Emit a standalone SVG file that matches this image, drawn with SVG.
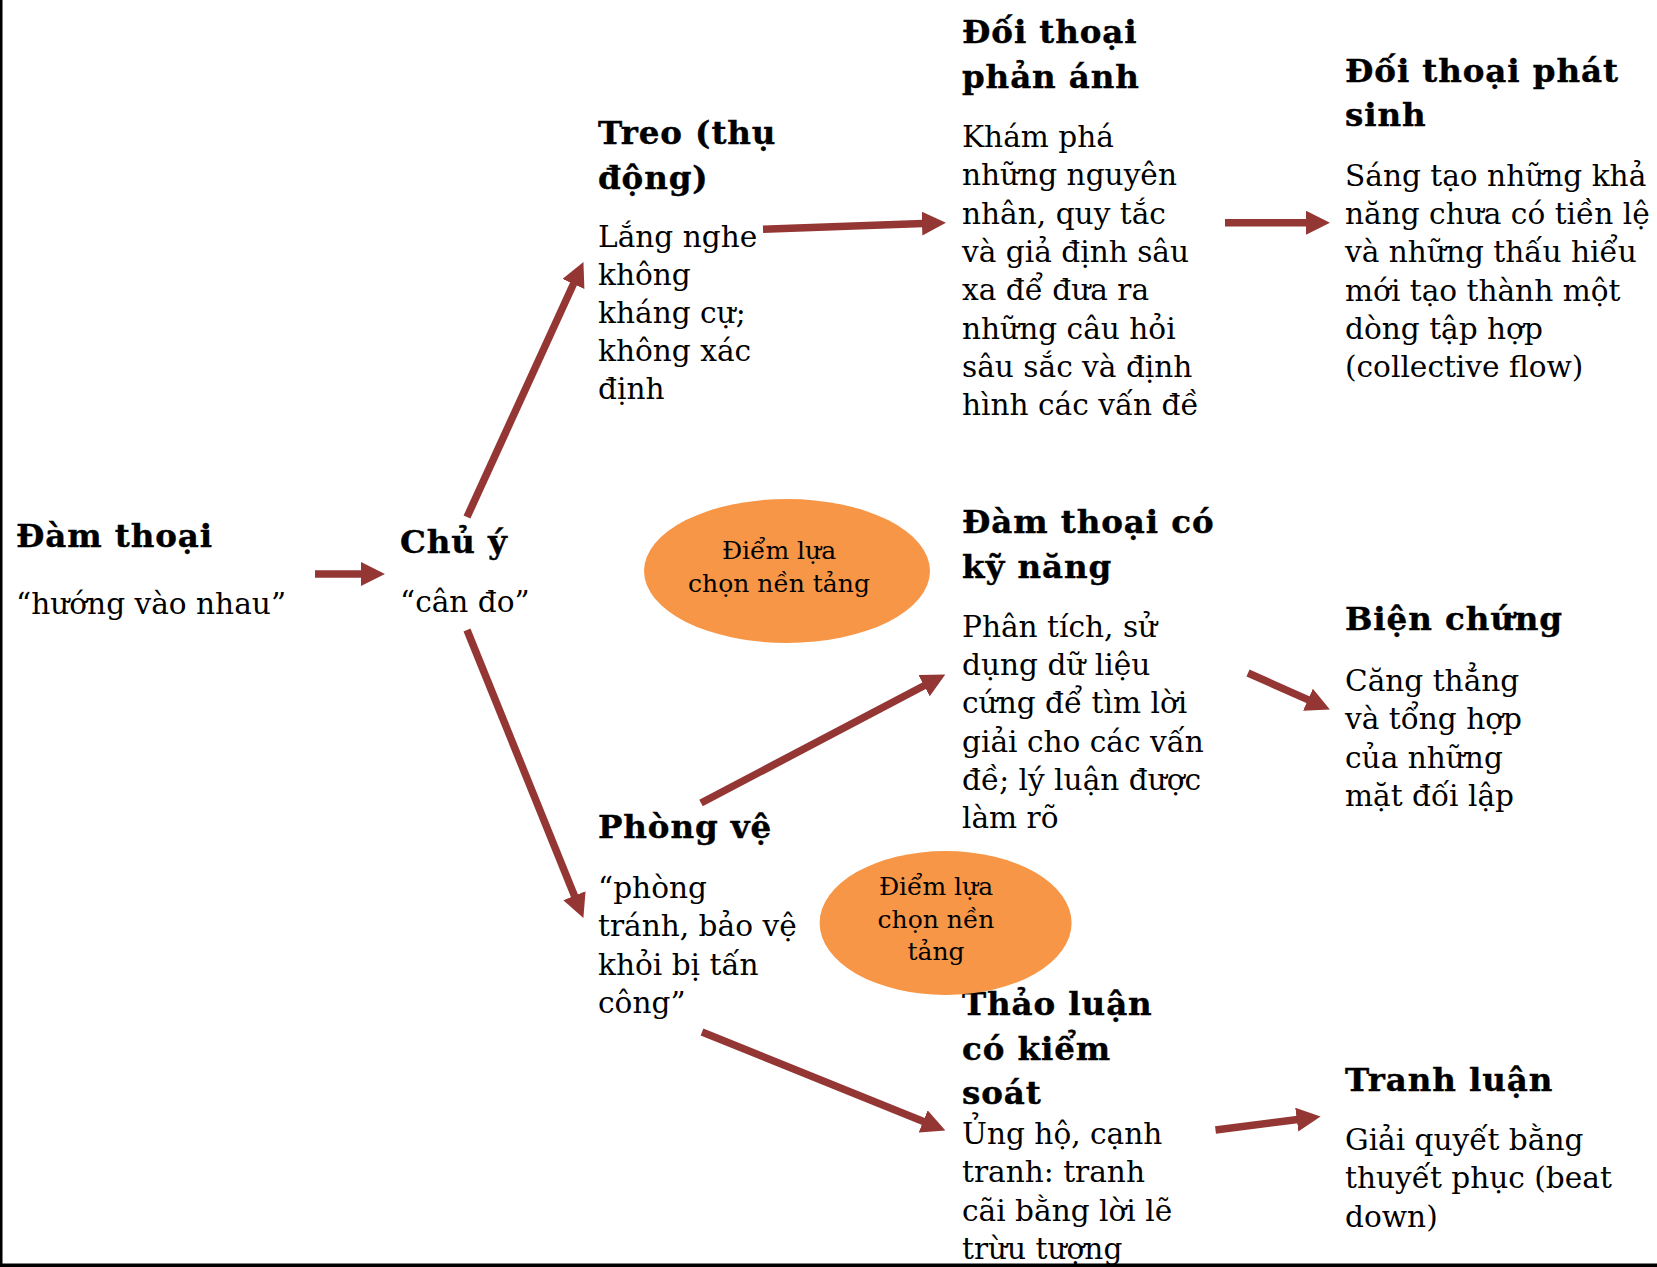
<svg xmlns="http://www.w3.org/2000/svg" width="1657" height="1267" viewBox="0 0 1657 1267">
<style>
.h{font-family:"DejaVu Serif","Liberation Serif",serif;font-weight:bold;font-size:32.5px;letter-spacing:0.9px;fill:#000;stroke:#000;stroke-width:0.4}
.b{font-family:"DejaVu Serif","Liberation Serif",serif;font-size:29.6px;fill:#000}
.e{font-family:"DejaVu Serif","Liberation Serif",serif;font-size:25px;fill:#000;text-anchor:middle}
.c{stroke:#943634;stroke-width:7.5;fill:none;marker-end:url(#ah)}
.ov{fill:#F79646}
</style>
<defs>
<marker id="ah" markerUnits="userSpaceOnUse" markerWidth="24" markerHeight="24" viewBox="0 0 23 23" refX="1" refY="11.5" orient="auto">
<path d="M0,0 L23,11.5 L0,23 z" fill="#943634"/>
</marker>
</defs>
<rect x="0" y="0" width="1657" height="1267" fill="#fff"/>

<g id="connectors">
<line class="c" x1="315" y1="574" x2="362" y2="574"/>
<line class="c" x1="467" y1="517" x2="573.9" y2="283"/>
<line class="c" x1="467" y1="630" x2="574.8" y2="896.6"/>
<line class="c" x1="701" y1="803" x2="925" y2="685.2"/>
<line class="c" x1="763" y1="229.3" x2="923" y2="223.5"/>
<line class="c" x1="1225" y1="222.7" x2="1307" y2="222.7"/>
<line class="c" x1="1248" y1="673" x2="1308.9" y2="700.1"/>
<line class="c" x1="702" y1="1032" x2="924.1" y2="1121.8"/>
<line class="c" x1="1215.5" y1="1130" x2="1297.8" y2="1119.5"/>
</g>

<g id="dam-thoai">
<text class="h" x="16" y="547">Đàm thoại</text>
<text class="b" x="16" y="614">“hướng vào nhau”</text>
</g>

<g id="chu-y">
<text class="h" x="400" y="553">Chủ ý</text>
<text class="b" x="400" y="612">“cân đo”</text>
</g>

<g id="treo">
<text class="h" x="598" y="143.5">Treo (thụ</text>
<text class="h" x="598" y="188.5">động)</text>
<text class="b" x="598" y="246.7">Lắng nghe</text>
<text class="b" x="598" y="285">không</text>
<text class="b" x="598" y="322.5">kháng cự;</text>
<text class="b" x="598" y="360.5">không xác</text>
<text class="b" x="598" y="398.5">định</text>
</g>

<g id="phong-ve">
<text class="h" x="598" y="838">Phòng vệ</text>
<text class="b" x="598" y="898">“phòng</text>
<text class="b" x="598" y="936.3">tránh, bảo vệ</text>
<text class="b" x="598" y="974.6">khỏi bị tấn</text>
<text class="b" x="598" y="1012.9">công”</text>
</g>

<g id="doi-thoai-phan-anh">
<text class="h" x="962" y="43">Đối thoại</text>
<text class="h" x="962" y="87.8">phản ánh</text>
<text class="b" x="962" y="147">Khám phá</text>
<text class="b" x="962" y="185.3">những nguyên</text>
<text class="b" x="962" y="223.6">nhân, quy tắc</text>
<text class="b" x="962" y="261.9">và giả định sâu</text>
<text class="b" x="962" y="300.2">xa để đưa ra</text>
<text class="b" x="962" y="338.5">những câu hỏi</text>
<text class="b" x="962" y="376.8">sâu sắc và định</text>
<text class="b" x="962" y="415.1">hình các vấn đề</text>
</g>

<g id="dam-thoai-ky-nang">
<text class="h" x="962" y="532.7">Đàm thoại có</text>
<text class="h" x="962" y="577.6">kỹ năng</text>
<text class="b" x="962" y="636.8">Phân tích, sử</text>
<text class="b" x="962" y="675.1">dụng dữ liệu</text>
<text class="b" x="962" y="713.4">cứng để tìm lời</text>
<text class="b" x="962" y="751.7">giải cho các vấn</text>
<text class="b" x="962" y="790">đề; lý luận được</text>
<text class="b" x="962" y="828.3">làm rõ</text>
</g>

<g id="thao-luan">
<text class="h" x="962" y="1015">Thảo luận</text>
<text class="h" x="962" y="1059.5">có kiểm</text>
<text class="h" x="962" y="1104">soát</text>
<text class="b" x="962" y="1144">Ủng hộ, cạnh</text>
<text class="b" x="962" y="1182.3">tranh: tranh</text>
<text class="b" x="962" y="1220.6">cãi bằng lời lẽ</text>
<text class="b" x="962" y="1258.9">trừu tượng</text>
</g>

<g id="doi-thoai-phat-sinh">
<text class="h" x="1345" y="81.5">Đối thoại phát</text>
<text class="h" x="1345" y="125.5">sinh</text>
<text class="b" x="1345" y="185.7">Sáng tạo những khả</text>
<text class="b" x="1345" y="224">năng chưa có tiền lệ</text>
<text class="b" x="1345" y="262.3">và những thấu hiểu</text>
<text class="b" x="1345" y="300.6">mới tạo thành một</text>
<text class="b" x="1345" y="338.9">dòng tập hợp</text>
<text class="b" x="1345" y="377.2">(collective flow)</text>
</g>

<g id="bien-chung">
<text class="h" x="1345" y="630">Biện chứng</text>
<text class="b" x="1345" y="691">Căng thẳng</text>
<text class="b" x="1345" y="729.3">và tổng hợp</text>
<text class="b" x="1345" y="767.6">của những</text>
<text class="b" x="1345" y="805.9">mặt đối lập</text>
</g>

<g id="tranh-luan">
<text class="h" x="1345" y="1091">Tranh luận</text>
<text class="b" x="1345" y="1150">Giải quyết bằng</text>
<text class="b" x="1345" y="1188.3">thuyết phục (beat</text>
<text class="b" x="1345" y="1226.6">down)</text>
</g>

<g id="diem-lua-chon-1">
<ellipse class="ov" cx="787" cy="571" rx="143" ry="72"/>
<text class="e" x="779" y="559">Điểm lựa</text>
<text class="e" x="779" y="592">chọn nền tảng</text>
</g>

<g id="diem-lua-chon-2">
<ellipse class="ov" cx="945.6" cy="923" rx="126" ry="72"/>
<text class="e" x="936" y="895">Điểm lựa</text>
<text class="e" x="936" y="927.5">chọn nền</text>
<text class="e" x="936" y="960">tảng</text>
</g>

<rect x="0" y="0" width="2.5" height="1267" fill="#000"/>
<rect x="0" y="1263.5" width="1657" height="3.5" fill="#000"/>
</svg>
